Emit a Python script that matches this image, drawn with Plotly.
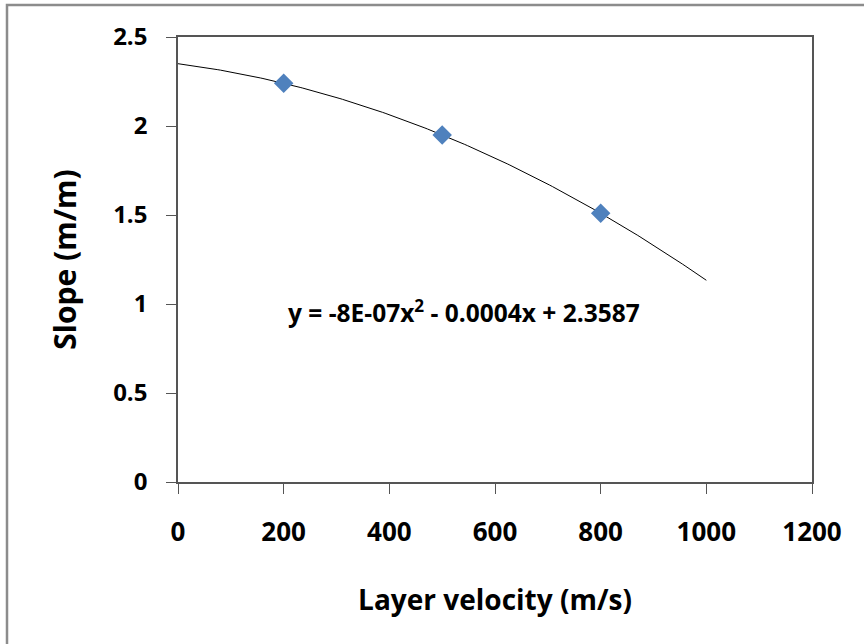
import numpy as np
import plotly.graph_objects as go

# Data
layer_velocity = [200, 500, 800]
slope = [2.24, 1.95, 1.51]
trend_x_max = 1000
equation_text = "y = -8E-07x<sup>2</sup> - 0.0004x + 2.3587"
x_title = "Layer velocity (m/s)"
y_title = "Slope (m/m)"

# polynomial trendline (order 2) fitted to the data, as Excel does
coef = np.polyfit(layer_velocity, slope, 2)
tx = np.linspace(0, trend_x_max, 200)
ty = np.polyval(coef, tx)

FONT = "Open Sans"
AX = "#555555"
PLOT_W, PLOT_H = 634, 444.5

fig = go.Figure()
fig.add_trace(go.Scatter(x=tx, y=ty, mode="lines",
                         line=dict(color="black", width=1), showlegend=False,
                         hoverinfo="skip"))
fig.add_trace(go.Scatter(x=layer_velocity, y=slope, mode="markers",
                         marker=dict(symbol="diamond", size=15, color="#4F81BD"),
                         showlegend=False))

fig.add_annotation(x=541, y=0.96, xref="x", yref="y", text=equation_text,
                   showarrow=False, font=dict(family=FONT, size=24.5, color="black", weight="bold"))

fig.update_layout(
    width=864, height=644,
    margin=dict(l=178, r=52, t=37, b=162),
    paper_bgcolor="white", plot_bgcolor="white",
    font=dict(family=FONT, color="black"),
    xaxis=dict(range=[0, 1200], dtick=200, tick0=0, showgrid=False, zeroline=False,
               showline=True, linecolor=AX, linewidth=1.5, mirror=True,
               ticks="outside", ticklen=10, tickcolor=AX, tickwidth=1.2,
               ticklabelstandoff=16,
               tickfont=dict(family=FONT, size=26, weight="bold", color="black"),
               title=dict(text=x_title, standoff=42,
                          font=dict(family=FONT, size=28, weight="bold", color="black"))),
    yaxis=dict(range=[0, 2.5], dtick=0.5, tick0=0, showgrid=False, zeroline=False,
               showline=True, linecolor=AX, linewidth=1.5, mirror=True,
               ticks="outside", ticklen=10, tickcolor=AX, tickwidth=1.2,
               ticklabelstandoff=14,
               tickfont=dict(family=FONT, size=24, weight="bold", color="black"),
               title=dict(text=y_title, standoff=28,
                          font=dict(family=FONT, size=30, weight="bold", color="black"))),
)

# outer chart border
fig.add_shape(type="rect", xref="paper", yref="paper",
              x0=(7 - 178) / PLOT_W, x1=1.2, y0=-0.5, y1=1 + (37 - 5) / PLOT_H,
              line=dict(color="#8c8c8c", width=2.5), fillcolor="rgba(0,0,0,0)",
              layer="below")

fig.write_html("out.html", config={"displayModeBar": False},
               post_script="document.body.style.margin='0px';document.body.style.padding='0px';")
